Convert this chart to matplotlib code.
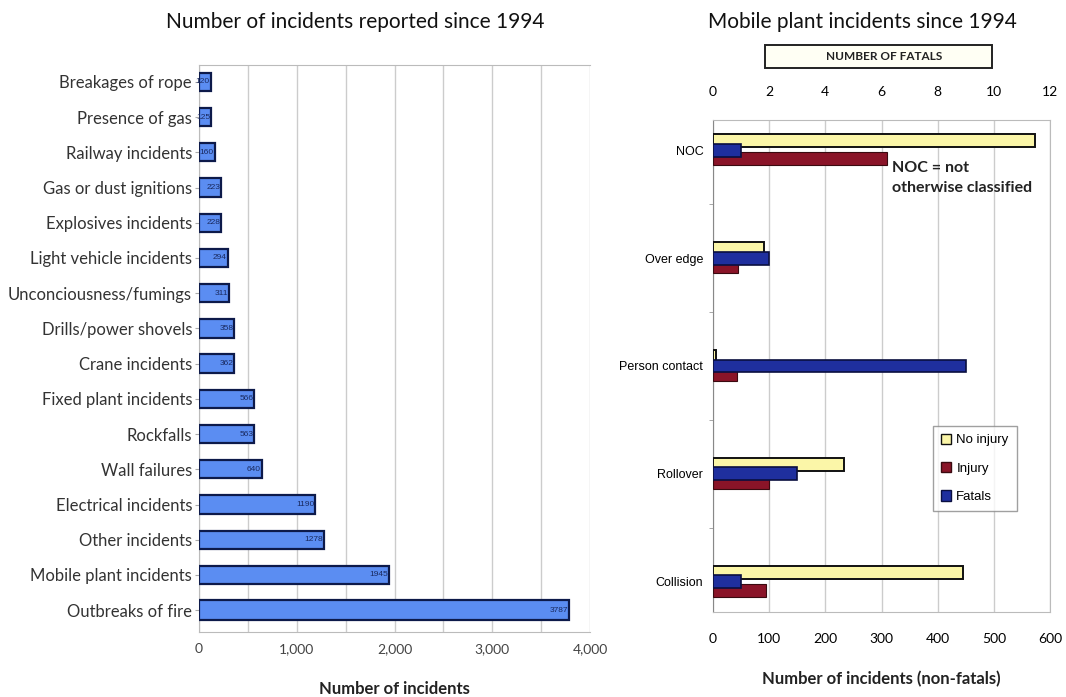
import matplotlib
matplotlib.use("Agg")
import matplotlib.pyplot as plt
import numpy as np
from matplotlib.patches import Patch, Rectangle

plt.rcParams['font.family'] = ['Lato', 'DejaVu Sans']

# left chart data (top to bottom)
causes = ["Breakages of rope", "Presence of gas", "Railway incidents",
          "Gas or dust ignitions", "Explosives incidents", "Light vehicle incidents",
          "Unconciousness/fumings", "Drills/power shovels", "Crane incidents",
          "Fixed plant incidents", "Rockfalls", "Wall failures",
          "Electrical incidents", "Other incidents", "Mobile plant incidents",
          "Outbreaks of fire"]
counts = [120, 125, 160, 223, 228, 294, 311, 358, 362, 566, 563, 640,
          1190, 1278, 1945, 3787]
left_ticks = [0, 1000, 2000, 3000, 4000]
left_ticklabels = ["0", "1,000", "2,000", "3,000", "4,000"]

# right chart data
mobile_cats = ["NOC", "Over edge", "Person contact", "Rollover", "Collision"]
no_injury = [573, 90, 5, 233, 445]
injury = [310, 45, 43, 100, 95]
fatals = [1, 2, 9, 3, 1]

W, H = 1066, 697
fig = plt.figure(figsize=(W / 100, H / 100), dpi=100)

def box(l, t, r, b):
    return [l / W, (H - b) / H, (r - l) / W, (b - t) / H]

# ---- left chart ----
ax = fig.add_axes(box(199, 65, 590, 632))
y = np.arange(len(causes))
hts = [0.57 if i == len(causes) - 1 else 0.52 for i in y]
ax.barh(y, counts, height=hts, color='#5b8df2', edgecolor='#0d1a4a', linewidth=1.6, zorder=3)
for yi, c in zip(y, counts):
    ax.text(c - 8, yi, str(c), ha='right', va='center', fontsize=6, color='#1a2a60', zorder=4,
            family='Liberation Sans')
ax.set_xlim(0, 4000)
ax.set_yticks(y)
ax.set_yticklabels(causes, fontsize=12, color='#333333')
ax.set_ylim(15.62, -0.48)
ax.set_xticks(left_ticks)
ax.set_xticklabels(left_ticklabels, fontsize=10, color='#444444')
ax.set_xticks(np.arange(500, 4000, 500), minor=True)
ax.grid(axis='x', which='both', color='#cccccc', linewidth=1, zorder=0)
ax.tick_params(axis='y', length=3, color='#aaaaaa', pad=2)
ax.tick_params(axis='x', which='both', length=0, pad=8)
for s in ax.spines.values():
    s.set_color('#bbbbbb')
ax.spines['right'].set_visible(False)
ax.set_xlabel("Number of incidents", fontsize=12, fontweight='bold', labelpad=19, color='#222222')
fig.text(355 / W, 1 - 22 / H, "Number of incidents reported since 1994", ha='center', va='center',
         fontsize=15, color='#111111')

# ---- right chart ----
c_yel, c_red, c_blu = '#fbf6a8', '#8a1428', '#1f2f9e'
ax2 = fig.add_axes(box(713, 120, 1050, 612))
yc = np.arange(len(mobile_cats))
bh = 0.12
ax2.barh(yc + 0.08, injury, height=bh, color=c_red, edgecolor='#3a0a10', linewidth=0.8, zorder=3)
ax2.barh(yc - 0.09, no_injury, height=bh, color=c_yel, edgecolor='#111111', linewidth=1.4, zorder=4)

# fatals on their own top scale
ax3 = ax2.twiny()
ax3.barh(yc, fatals, height=bh, color=c_blu, edgecolor='#0a0f40', linewidth=1.2, zorder=5)
ax3.set_xlim(0, 12)
ax3.set_xticks(np.arange(0, 13, 2))
ax3.tick_params(axis='x', length=0, labelsize=10, pad=16)
for s in ax3.spines.values():
    s.set_visible(False)

ax2.set_xlim(0, 600)
ax2.set_yticks(yc)
ax2.set_yticklabels(mobile_cats, fontsize=9, family='Liberation Sans')
ax2.set_yticks(np.arange(0.5, 4, 1), minor=True)
ax2.set_ylim(4.28, -0.28)
ax2.tick_params(axis='y', which='major', length=0, pad=7)
ax2.tick_params(axis='y', which='minor', length=3, color='#999999')
ax2.set_xticks(np.arange(0, 601, 100))
ax2.tick_params(axis='x', length=0, labelsize=10, pad=15)
ax2.grid(axis='x', color='#cccccc', linewidth=1, zorder=0)
for s in ax2.spines.values():
    s.set_color('#bbbbbb')
ax2.spines['left'].set_color('#888888')
ax2.set_xlabel("Number of incidents (non-fatals)", fontsize=12, fontweight='bold', labelpad=19, color='#222222')

fig.text(862 / W, 1 - 22 / H, "Mobile plant incidents since 1994", ha='center', va='center',
         fontsize=15, color='#111111')
fig.patches.append(Rectangle((765 / W, 1 - 68 / H), 227 / W, 23 / H, transform=fig.transFigure,
                             facecolor='#fffff4', edgecolor='#222222', linewidth=1.4))
fig.text(884 / W, 1 - 57 / H, "NUMBER OF FATALS", ha='center', va='center', fontsize=8.5,
         fontweight='bold', color='#222222')
fig.text(892 / W, 1 - 178 / H, "NOC = not\notherwise classified", ha='left', va='center',
         fontsize=11.5, fontweight='bold', color='#222222', linespacing=1.55)

handles = [Patch(facecolor=c_yel, edgecolor='#111111', label='No injury'),
           Patch(facecolor=c_red, edgecolor='#3a0a10', label='Injury'),
           Patch(facecolor=c_blu, edgecolor='#0a0f40', label='Fatals')]
fig.legend(handles=handles, loc='upper left', bbox_to_anchor=(926 / W, 1 - 419 / H),
           prop={'family': 'Liberation Sans', 'size': 9.5}, frameon=True, fancybox=False,
           edgecolor='#888888', handlelength=0.8, handleheight=0.8, handletextpad=0.4,
           labelspacing=1.2, borderpad=0.6)

fig.savefig("out.png", dpi=100)
